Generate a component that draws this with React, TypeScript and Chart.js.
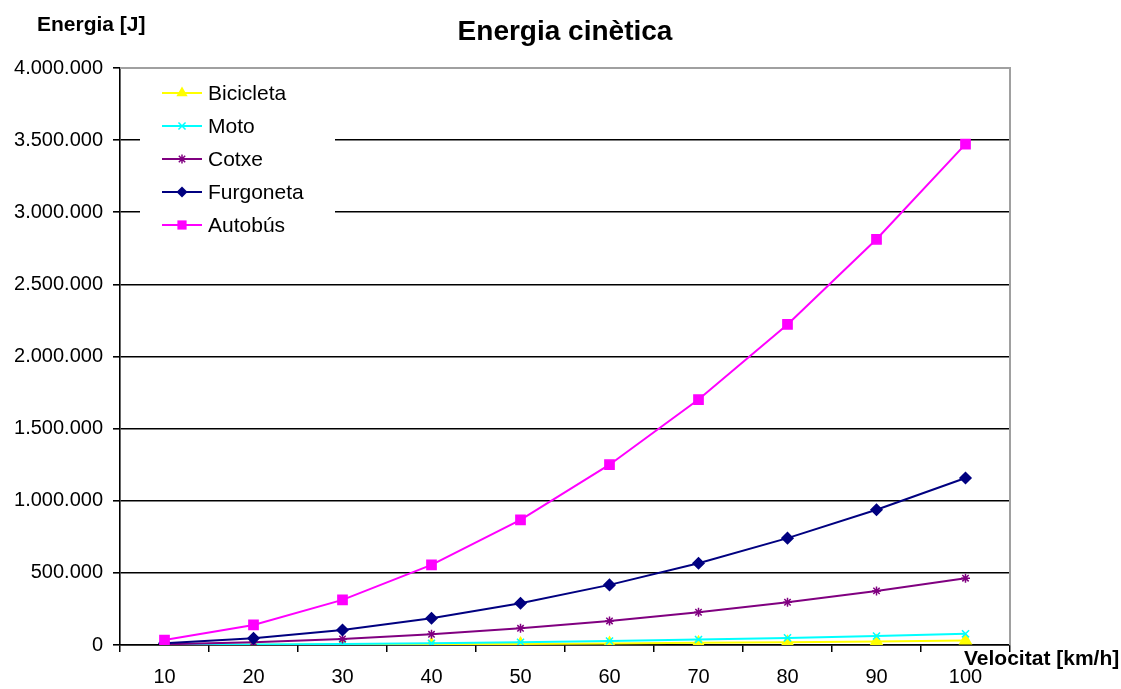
import React, { useEffect, useRef } from "react";
import { Chart, registerables } from "chart.js";

Chart.register(...registerables);

// Speeds in km/h
const velocitats = ["10", "20", "30", "40", "50", "60", "70", "80", "90", "100"];

// Kinetic energy (J) for each vehicle
const bicicleta = [309, 1235, 2778, 4938, 7716, 11111, 15123, 19753, 25000, 30864];
const moto = [772, 3086, 6944, 12346, 19290, 27778, 37809, 49383, 62500, 77160];
const cotxe = [4630, 18519, 41667, 74074, 115741, 166667, 226852, 296296, 375000, 462963];
const furgoneta = [11574, 46296, 104167, 185185, 289352, 416667, 567130, 740741, 937500, 1157407];
const autobus = [34722, 138889, 312500, 555556, 868056, 1250000, 1701389, 2222222, 2812500, 3472222];

const seriesNames = ["Bicicleta", "Moto", "Cotxe", "Furgoneta", "Autobús"];
const seriesColors = ["#FFFF00", "#00FFFF", "#800080", "#000080", "#FF00FF"];
const seriesMarkers = ["triangle", "crossRot", "star", "rectRot", "rect"];
const markerRadius = [6.5, 5, 4.5, 5.5, 6.5];

const FONT = "'Liberation Sans', Arial, Helvetica, sans-serif";

const fmt = (v: number) => String(Math.round(v)).replace(/\B(?=(\d{3})+(?!\d))/g, ".");

function drawMarker(ctx: CanvasRenderingContext2D, style: string, r: number, x: number, y: number) {
  ctx.beginPath();
  if (style === "triangle") {
    ctx.moveTo(x, y - r);
    ctx.lineTo(x + r * 0.866, y + r * 0.5);
    ctx.lineTo(x - r * 0.866, y + r * 0.5);
    ctx.closePath();
    ctx.fill();
  } else if (style === "rect") {
    const s = r * Math.SQRT1_2;
    ctx.fillRect(x - s, y - s, 2 * s, 2 * s);
  } else if (style === "rectRot") {
    ctx.moveTo(x, y - r);
    ctx.lineTo(x + r, y);
    ctx.lineTo(x, y + r);
    ctx.lineTo(x - r, y);
    ctx.closePath();
    ctx.fill();
  } else if (style === "crossRot") {
    const s = r * Math.SQRT1_2;
    ctx.moveTo(x - s, y - s);
    ctx.lineTo(x + s, y + s);
    ctx.moveTo(x - s, y + s);
    ctx.lineTo(x + s, y - s);
    ctx.stroke();
  } else if (style === "star") {
    const s = r * Math.SQRT1_2;
    ctx.moveTo(x - s, y - s);
    ctx.lineTo(x + s, y + s);
    ctx.moveTo(x - s, y + s);
    ctx.lineTo(x + s, y - s);
    ctx.moveTo(x, y - r);
    ctx.lineTo(x, y + r);
    ctx.moveTo(x - r, y);
    ctx.lineTo(x + r, y);
    ctx.stroke();
  }
}

const decorations = {
  id: "decorations",
  beforeDatasetsDraw(chart: any) {
    const { ctx, chartArea } = chart;
    ctx.save();
    // Grey plot-area frame on top and right
    ctx.strokeStyle = "#a0a0a0";
    ctx.lineWidth = 2;
    ctx.beginPath();
    ctx.moveTo(chartArea.left, chartArea.top);
    ctx.lineTo(chartArea.right, chartArea.top);
    ctx.lineTo(chartArea.right, chartArea.bottom);
    ctx.stroke();
    ctx.restore();
  },
  afterDatasetsDraw(chart: any) {
    const { ctx, chartArea } = chart;
    ctx.save();
    // Legend box inside the plot area
    const bx = chartArea.left + 20;
    const by = chartArea.top + 2;
    ctx.fillStyle = "#ffffff";
    ctx.fillRect(bx, by, 195, 175);
    chart.data.datasets.forEach((ds: any, i: number) => {
      const y = chartArea.top + 25 + i * 33;
      const x0 = chartArea.left + 42;
      const x1 = chartArea.left + 82;
      ctx.strokeStyle = ds.borderColor;
      ctx.lineWidth = 2;
      ctx.beginPath();
      ctx.moveTo(x0, y);
      ctx.lineTo(x1, y);
      ctx.stroke();
      ctx.fillStyle = ds.pointBackgroundColor;
      ctx.strokeStyle = ds.pointBorderColor;
      ctx.lineWidth = 1.5;
      drawMarker(ctx, ds.pointStyle, ds.pointRadius, (x0 + x1) / 2, y);
      ctx.fillStyle = "#000";
      ctx.font = `21px ${FONT}`;
      ctx.textAlign = "left";
      ctx.textBaseline = "middle";
      ctx.fillText(ds.label, chartArea.left + 88, y + 1);
    });
    // Chart and axis titles
    ctx.fillStyle = "#000";
    ctx.textBaseline = "middle";
    ctx.textAlign = "center";
    ctx.font = `bold 28px ${FONT}`;
    ctx.fillText("Energia cinètica", 565, 32);
    ctx.font = `bold 21px ${FONT}`;
    ctx.textAlign = "left";
    ctx.fillText("Energia [J]", 37, 25);
    ctx.fillText("Velocitat [km/h]", 964, 659);
    ctx.restore();
  },
};

export default function App() {
  const canvasRef = useRef<HTMLCanvasElement | null>(null);

  useEffect(() => {
    document.body.style.margin = "0";
    const values = [bicicleta, moto, cotxe, furgoneta, autobus];
    const chart = new Chart(canvasRef.current as HTMLCanvasElement, {
      type: "line",
      data: {
        labels: velocitats,
        datasets: values.map((d, i) => ({
          label: seriesNames[i],
          data: d,
          borderColor: seriesColors[i],
          backgroundColor: seriesColors[i],
          pointBackgroundColor: seriesColors[i],
          pointBorderColor: seriesColors[i],
          pointStyle: seriesMarkers[i] as any,
          pointRadius: markerRadius[i],
          pointBorderWidth: 1.5,
          borderWidth: 2,
          tension: 0,
          fill: false,
          order: 5 - i,
        })),
      },
      options: {
        responsive: false,
        animation: false,
        layout: { padding: { left: 0, top: 68, right: 111, bottom: 0 } },
        plugins: {
          legend: { display: false },
          title: { display: false },
          tooltip: { enabled: false },
        },
        scales: {
          x: {
            type: "category",
            offset: true,
            grid: {
              offset: true,
              drawOnChartArea: false,
              drawTicks: true,
              tickLength: 7,
              tickColor: "#000",
              lineWidth: 1.5,
            },
            border: { color: "#000", width: 1.6 },
            ticks: {
              color: "#000",
              font: { family: FONT, size: 20 },
              padding: 13,
              maxRotation: 0,
            },
            afterFit(scale: any) {
              scale.height = 44;
            },
          },
          y: {
            min: 0,
            max: 4000000,
            ticks: {
              stepSize: 500000,
              color: "#000",
              font: { family: FONT, size: 20 },
              padding: 10,
              callback: (v: any) => fmt(Number(v)),
            },
            grid: {
              color: (c: any) => (c.tick && c.tick.value === 4000000 ? "rgba(0,0,0,0)" : "#000"),
              tickColor: "#000",
              tickLength: 7,
              lineWidth: 1.6,
            },
            border: { color: "#000", width: 1.6 },
            afterFit(scale: any) {
              scale.width = 120;
            },
          },
        },
      },
      plugins: [decorations],
    });
    return () => chart.destroy();
  }, []);

  return (
    <div style={{ width: 1121, height: 689, background: "#fff" }}>
      <canvas ref={canvasRef} width={1121} height={689} style={{ display: "block" }} />
    </div>
  );
}
